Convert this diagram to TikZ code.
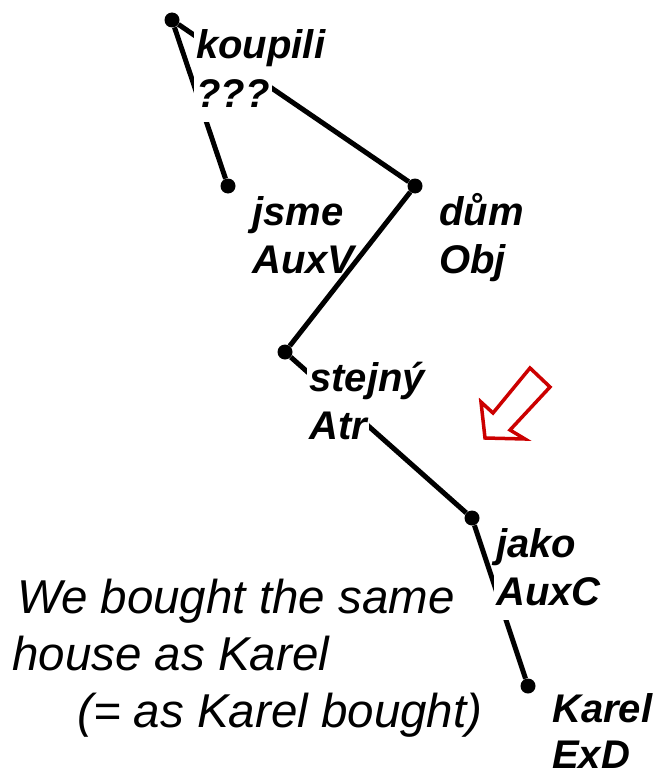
\documentclass[tikz,border=0pt]{standalone}
\usepackage{fontspec}
\setmainfont{Liberation Sans}
\usepackage{tikz}
\usetikzlibrary{positioning}

\definecolor{markred}{RGB}{204,0,0}
\newcommand\tagfont{\fontsize{40}{40}\selectfont\bfseries\itshape}
\newcommand\glossfont{\fontsize{47.5}{57}\selectfont\itshape}

\begin{document}
\begin{tikzpicture}[
      x=1pt, y=-1pt,
      dot/.style={circle, fill=black, inner sep=0pt, minimum size=15pt},
      tag/.style={anchor=base west, fill=white, font=\tagfont, inner xsep=2pt, inner ysep=3pt, text height=30pt, text depth=12pt},
      gloss/.style={anchor=base west, inner sep=0pt, font=\glossfont},
      dep/.style={line width=5pt},
      hollow/.style={draw=markred, line width=3.5pt, line join=miter, fill=white}
    ]
    \useasboundingbox (0,0) rectangle (659,773);

    % tree nodes
    \node[dot] (koupili) at (172,20) {};
    \node[dot] (jsme) at (228,186) {};
    \node[dot] (dum) at (415,186) {};
    \node[dot] (stejny) at (285,352) {};
    \node[dot] (jako) at (472,518) {};
    \node[dot] (karel) at (528,686) {};

    \draw[dep] (koupili) -- (jsme);
    \draw[dep] (koupili) -- (dum);
    \draw[dep] (stejny) -- (jako);
    \draw[dep] (jako) -- (karel);

    % word forms and functors
    \node[tag] (koupili-w) at (194,59) {koupili};
    \node[tag] (koupili-f) at (194,107) {???};
    \node[tag] (jsme-w) at (250,225) {jsme};
    \node[tag] (jsme-f) at (250,273) {AuxV};
    \node[tag] (dum-w) at (437,225) {dům};
    \node[tag] (dum-f) at (437,273) {Obj};
    \node[tag] (stejny-w) at (307,391) {stejný};
    \node[tag] (stejny-f) at (307,439) {Atr};
    \node[tag] (jako-w) at (494,557) {jako};
    \node[tag] (jako-f) at (494,605) {AuxC};
    \node[tag] (karel-w) at (550,722) {Karel};
    \node[tag, text depth=0pt] (karel-f) at (550,768) {ExD};

    \draw[dep] (dum) -- (stejny);

    % marker arrow
    \draw[hollow] (485,438) -- (481,402) -- (493,413) -- (530,368)
      -- (550,387) -- (510,430) -- (525,439) -- cycle;

    % translation
    \node[gloss] (gloss1) at (17,613) {We bought the same};
    \node[gloss] (gloss2) at (12,670) {house as Karel};
    \node[gloss] (gloss3) at (77,727) {(= as Karel bought)};
  \end{tikzpicture}
\end{document}
